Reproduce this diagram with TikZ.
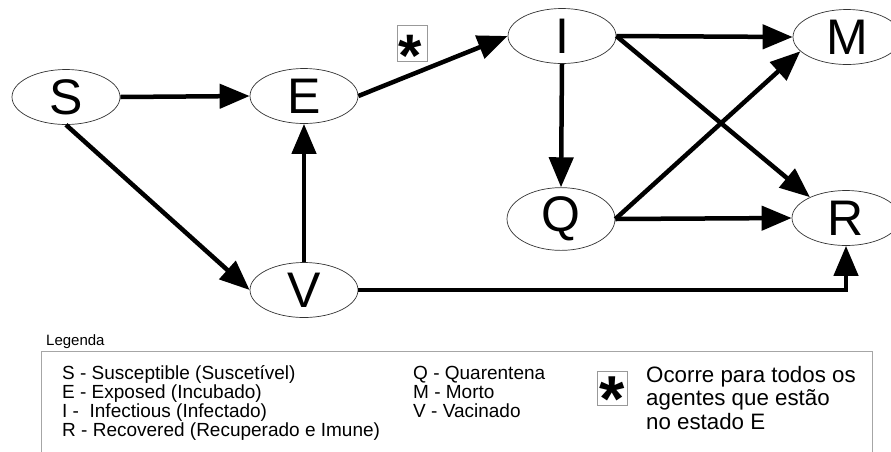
\documentclass[tikz,border=0pt]{standalone}
\usepackage{fontspec}
\setmainfont{Liberation Sans}
\usetikzlibrary{arrows.meta,shapes.geometric}
\begin{document}
\begin{tikzpicture}[x=1pt,y=-1pt,
  state/.style={ellipse, draw=black!80, line width=0.7pt, fill=white,
    minimum width=108pt, minimum height=55pt, inner sep=0pt,
    font=\fontsize{50}{50}\selectfont},
  flow/.style={line width=4.5pt, -{Triangle[length=30pt,width=24pt]}},
  legtext/.style={anchor=base west, inner sep=0pt, font=\fontsize{19}{20}\selectfont},
  notetext/.style={anchor=base west, inner sep=0pt, font=\fontsize{22.3}{24}\selectfont},
  starbox/.style={draw=black!40, line width=0.8pt, inner sep=0pt},
  startext/.style={anchor=base, inner sep=0pt},
]
\useasboundingbox (0,0) rectangle (891,451);
\clip (0,0) rectangle (891,451);

% states
\node[state] (S) at (66,97) {S};
\node[state] (E) at (304,96) {E};
\node[state] (I) at (562,36) {I};
\node[state] (M) at (847,37) {M};
\node[state] (Q) at (561,219) {Q};
\node[state] (R) at (846,218) {R};
\node[state] (V) at (304,290) {V};

% transitions
\draw[flow] (S.east) -- (E.west);
\draw[flow] (S.south) -- (V.west);
\draw[flow] (E.east) -- (I.west);
\draw[flow] (V.north) -- (E.south);
\draw[flow] (I.east) -- (M.west);
\draw[flow] (I.east) -- (R.150);
\draw[flow] (I.south) -- (Q.north);
\draw[flow] (Q.east) -- (M.197);
\draw[flow] (Q.east) -- (R.west);
\draw[flow] (V.east) -| (R.south);

% star marker on E -> I
\node[starbox, minimum width=30pt, minimum height=36pt] (mark) at (412,43) {};
\node[startext, font=\fontsize{60}{60}\bfseries\selectfont] (markstar) at (410,76) {*};

% legend
\node[anchor=base west, inner sep=0pt, font=\fontsize{15}{15}\selectfont] (legtitle) at (46,345) {Legenda};
\draw[black!35, line width=1pt] (41,351) rectangle (872,480);

\node[legtext] (l1) at (62,379) {S - Susceptible (Suscetível)};
\node[legtext] (l2) at (62,398) {E - Exposed (Incubado)};
\node[legtext] (l3) at (62,417) {I -~ Infectious (Infectado)};
\node[legtext] (l4) at (62,436) {R - Recovered (Recuperado e Imune)};

\node[legtext] (m1) at (413,379) {Q - Quarentena};
\node[legtext] (m2) at (413,398) {M - Morto};
\node[legtext] (m3) at (413,417) {V - Vacinado};

\node[starbox, minimum width=30pt, minimum height=34pt] (legmark) at (612,388) {};
\node[startext, font=\fontsize{65}{65}\bfseries\selectfont] (legstar) at (612.5,421.5) {*};

\node[notetext] (n1) at (646,382) {Ocorre para todos os};
\node[notetext] (n2) at (646,405.5) {agentes que estão};
\node[notetext] (n3) at (646,429) {no estado E};
\end{tikzpicture}
\end{document}
